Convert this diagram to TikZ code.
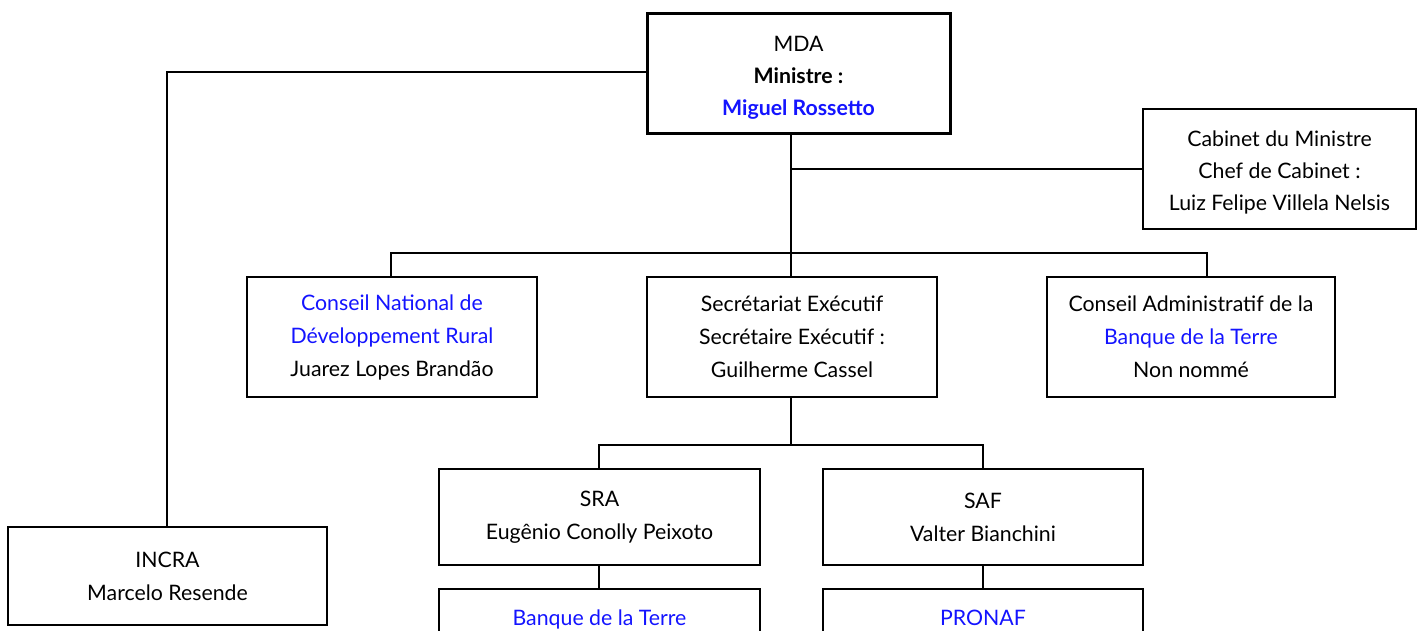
\documentclass[tikz,border=0pt]{standalone}
\usepackage{fontspec}
\setmainfont{Lato}
\definecolor{lnk}{RGB}{20,20,255}
\begin{document}
\begin{tikzpicture}[x=1pt,y=-1pt,
  txt/.style={align=center,inner sep=0pt,font=\fontsize{21.3}{33}\selectfont},
  box/.style={txt,draw=black,line width=1.8pt,rectangle},
  conn/.style={draw=black,line width=1.8pt},
  blue/.style={text=lnk}]
\useasboundingbox (0,0) rectangle (1420,630);
\fill[white] (0,0) rectangle (1420,630);
\node[box,line width=3pt,minimum width=303pt,minimum height=120pt] (mda) at (798.5,73) {};
\node[txt,font=\fontsize{21.3}{32}\selectfont] (mdat) at (798.5,78)
  {MDA\\{\bfseries Ministre :}\\{\bfseries\color{lnk}Miguel Rossetto}};
\node[box,minimum width=273pt,minimum height=120pt] (cab) at (1279.5,169) {};
\node[txt,font=\fontsize{21.3}{32}\selectfont] (cabt) at (1279.5,172)
  {Cabinet du Ministre\\Chef de Cabinet :\\Luiz Felipe Villela Nelsis};
\node[box,minimum width=290pt,minimum height=120pt] (cndr) at (392,337)
  {\color{lnk}Conseil National de\\\color{lnk}Développement Rural\\Juarez Lopes Brandão};
\node[box,minimum width=290pt,minimum height=120pt] (sec) at (792,337)
  {Secrétariat Exécutif\\Secrétaire Exécutif :\\Guilherme Cassel};
\node[box,minimum width=288pt,minimum height=120pt] (ca) at (1191,337)
  {Conseil Administratif de la\\\color{lnk}Banque de la Terre\\Non nommé};
\node[box,minimum width=321pt,minimum height=96pt] (sra) at (599.5,517)
  {SRA\\Eugênio Conolly Peixoto};
\node[box,minimum width=320pt,minimum height=96pt] (saf) at (983,517)
  {SAF\\Valter Bianchini};
\node[box,minimum width=319pt,minimum height=98pt] (incra) at (167.5,576)
  {INCRA\\Marcelo Resende};
\node[box,minimum width=321pt,minimum height=96pt] (bqt) at (599.5,637) {};
\node[box,minimum width=320pt,minimum height=96pt] (pro) at (983,637) {};
\node[txt,text=lnk,anchor=base] (bqtt) at (599.5,625) {Banque de la Terre};
\node[txt,text=lnk,anchor=base] (prot) at (983,625) {PRONAF};
% connectors
\coordinate (mdaL) at (647,72);
\coordinate (k1) at (167,72);
\draw[conn] (mda.west |- mdaL) -- (k1) -- (incra.north -| k1);
\coordinate (busA) at (791,253);
\coordinate (cabK) at (791,169);
\draw[conn] (mda.south -| busA) -- (busA);
\draw[conn] (cabK) -- (cab.west);
\coordinate (busL) at (391,253);
\coordinate (busR) at (1207,253);
\draw[conn] (cndr.north -| busL) -- (busL) -- (busR) -- (ca.north -| busR);
\draw[conn] (busA) -- (sec.north -| busA);
\coordinate (bus2) at (791,445);
\coordinate (bus2L) at (599,445);
\coordinate (bus2R) at (983,445);
\draw[conn] (sec.south -| bus2) -- (bus2);
\draw[conn] (sra.north -| bus2L) -- (bus2L) -- (bus2R) -- (saf.north -| bus2R);
\draw[conn] (sra.south -| bus2L) -- (bqt.north -| bus2L);
\draw[conn] (saf.south -| bus2R) -- (pro.north -| bus2R);
\end{tikzpicture}
\end{document}
